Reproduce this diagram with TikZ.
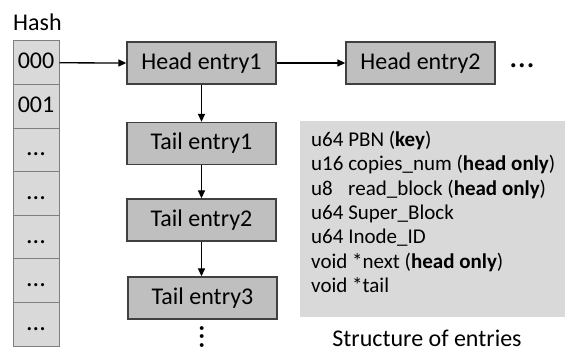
\documentclass[tikz,border=0pt]{standalone}
\usepackage{fontspec}
\setmainfont{Carlito}
\usetikzlibrary{arrows.meta}
\definecolor{entryfill}{HTML}{BFBFBF}
\definecolor{entryline}{HTML}{404040}
\definecolor{cellfill}{HTML}{D9D9D9}
\definecolor{cellline}{HTML}{7F7F7F}
\definecolor{panelfill}{HTML}{D9D9D9}
\begin{document}
\begin{tikzpicture}[x=1pt,y=-1pt,
  entry/.style={draw=entryline, line width=1.3pt, fill=entryfill,
    minimum width=149pt, minimum height=42pt, inner sep=0pt,
    font=\fontsize{24}{28}\selectfont},
  cell/.style={draw=cellline, line width=1pt, fill=cellfill,
    minimum width=46pt, minimum height=43.6pt, inner sep=0pt,
    text height=15pt, text depth=3pt,
    font=\fontsize{24}{28}\selectfont},
  link/.style={-{Triangle[length=8pt,width=7pt]}, line width=1.3pt},
  label/.style={inner sep=0pt, font=\fontsize{24}{28}\selectfont}]
\useasboundingbox (0,0) rectangle (574,352);

% hash table column
\node[label, anchor=base west] (hash) at (13,31) {Hash};
\node[cell] (c0) at (36,62.8) {000};
\node[cell] (c1) at (36,106.4) {001};
\foreach \k in {2,3,4,5,6}
  \node[cell, font=\fontsize{26}{28}\selectfont] (c\k) at (36,{41+43.6*\k+21.8}) {.{}.{}.};

% head entries
\node[entry] (h1) at (201.5,63) {Head entry1};
\node[entry] (h2) at (420.5,63) {Head entry2};
\node[inner sep=0pt, anchor=base, font=\fontsize{34}{36}\selectfont] (more) at (522,67.3) {.{}.{}.};

% tail chain
\node[entry] (t1) at (201.5,143.5) {Tail entry1};
\node[entry] (t2) at (201.5,220) {Tail entry2};
\node[entry] (t3) at (202.5,298) {Tail entry3};
\node[inner sep=0pt, rotate=-90, font=\fontsize{32}{34}\selectfont] (vdots) at (202,337) {.{}.{}.};

% links
\draw[link] (c0.east) -- (h1.west);
\draw[link] (h1.east) -- (h2.west);
\draw[link] (h1.south) -- (t1.north);
\draw[link] (t1.south) -- (t2.north);
\draw[link] (t2.south) -- (t2.south |- t3.north);

% entry layout panel
\node[fill=panelfill, minimum width=265pt, minimum height=196pt, inner sep=0pt,
  anchor=north west] (panel) at (300,121) {};
\node[anchor=north west, inner sep=0pt, align=left,
  font=\fontsize{21}{24.3}\selectfont] (fields) at (311,131) {%
  u64 PBN (\textbf{key})\\
  u16 copies\_num (\textbf{head only})\\
  u8\hphantom{4} read\_block (\textbf{head only})\\
  u64 Super\_Block\\
  u64 Inode\_ID\\
  void *next (\textbf{head only})\\
  void *tail};
\node[label, anchor=base] (caption) at (427,347) {Structure of entries};
\end{tikzpicture}
\end{document}
